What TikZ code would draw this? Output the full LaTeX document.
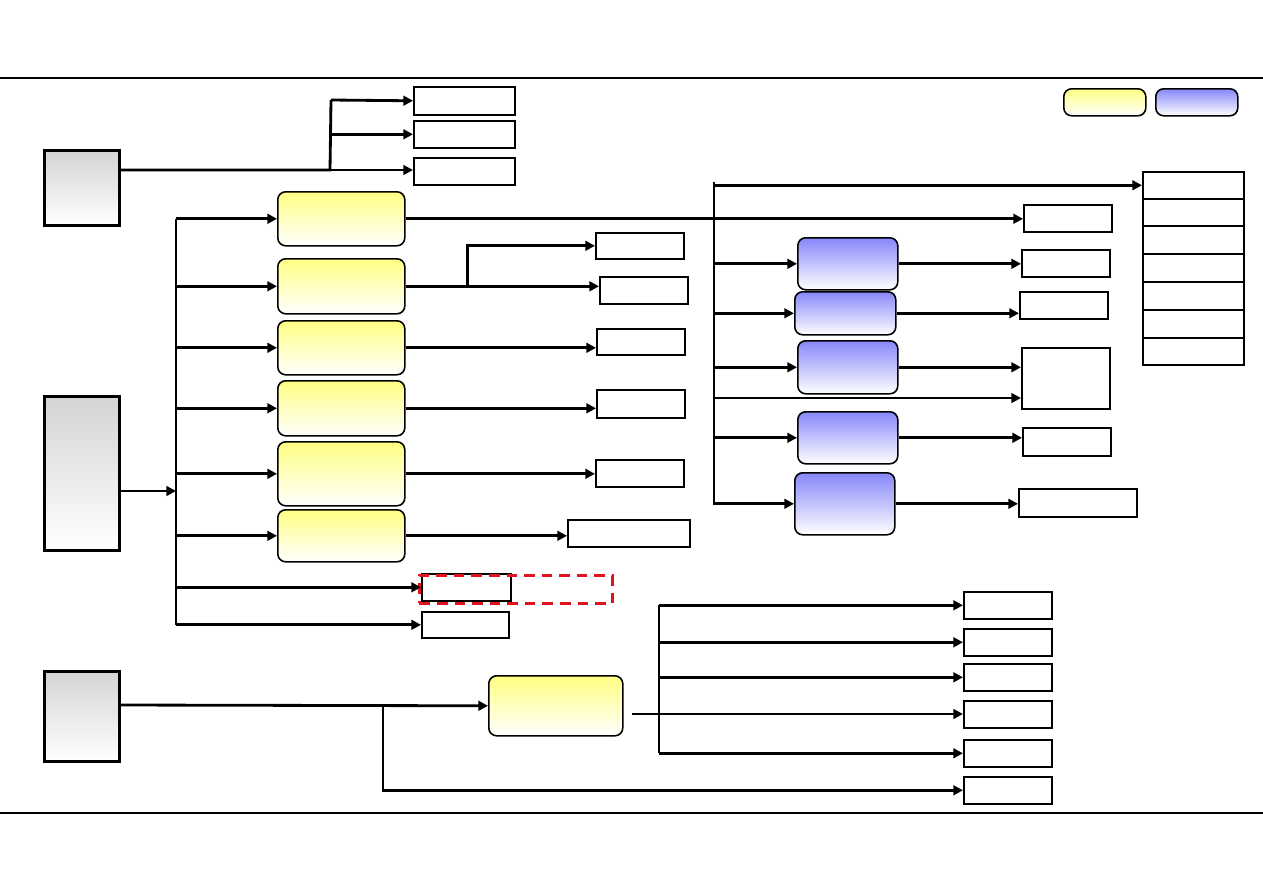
\documentclass[tikz,border=0pt]{standalone}
\usetikzlibrary{arrows.meta}
\definecolor{xYellow}{RGB}{255,255,130}
\definecolor{xBlue}{RGB}{135,135,250}
\definecolor{xGray}{RGB}{212,212,212}
\definecolor{xRed}{RGB}{225,20,30}
\tikzset{
  sz/.style 2 args={minimum width=#1*0.02cm, minimum height=#2*0.02cm},
  blk/.style={draw, anchor=north west, inner sep=0pt, line width=0.9pt},
  grayblk/.style={blk, line width=1.6pt, top color=xGray, bottom color=white},
  yelblk/.style={blk, rounded corners=4.5pt, top color=xYellow, bottom color=white, middle color=xYellow!50},
  blublk/.style={blk, rounded corners=4.5pt, top color=xBlue, bottom color=white, middle color=xBlue!50},
  outblk/.style={blk, fill=white},
  hilite/.style={anchor=north west, inner sep=0pt, draw=xRed, line width=1.6pt, dash pattern=on 6pt off 4pt},
  wire/.style={line width=1.6pt},
  arr/.style={line width=1.6pt, -{Triangle[length=5.5pt, width=5.5pt]}},
}
\begin{document}
\begin{tikzpicture}[x=0.02cm, y=-0.02cm]
  \useasboundingbox (0,0) rectangle (1263,893);
  \draw[line width=1.3pt] (0,78) -- (1263,78);
  \draw[line width=0.7pt] (0,813) -- (1263,813);

  % sources
  \node[grayblk, sz={75}{75}]  (g1) at (43,149) {};
  \node[grayblk, sz={75}{154}] (g2) at (43,395) {};
  \node[grayblk, sz={75}{90}]  (g3) at (43,670) {};

  % legend
  \node[yelblk, sz={82}{27}] (ly) at (1063,88) {};
  \node[blublk, sz={82}{27}] (lb) at (1155,88) {};

  % top group
  \node[outblk, sz={101}{28}] (t1) at (413,86) {};
  \node[outblk, sz={101}{27}] (t2) at (413,120) {};
  \node[outblk, sz={101}{27}] (t3) at (413,157) {};
  \coordinate (j1) at (330,170);
  \coordinate (j1t) at (331,100);
  \draw[wire] (g1.east |- j1) -- (j1) -- (j1t);
  \draw[arr] (j1t) -- (t1.west);
  \draw[arr] (t2.west -| j1) -- (t2.west);
  \draw[arr] (j1) -- (j1 -| t3.west);

  % middle group
  \node[yelblk, sz={127}{54}] (y1) at (277,191) {};
  \node[yelblk, sz={127}{55}] (y2) at (277,258) {};
  \node[yelblk, sz={127}{54}] (y3) at (277,320) {};
  \node[yelblk, sz={127}{55}] (y4) at (277,380) {};
  \node[yelblk, sz={127}{64}] (y5) at (277,441) {};
  \node[yelblk, sz={127}{52}] (y6) at (277,509) {};
  \node[outblk, sz={89}{27}]  (w7) at (421,573) {};
  \node[outblk, sz={87}{26}]  (w8) at (421,611) {};
  \node[hilite, sz={193}{28}] (hl) at (418,574) {};
  \coordinate (k) at (176,491);
  \draw[arr] (g2.east |- k) -- (k);
  \draw[wire] (y1.west -| k) -- (w8.west -| k);
  \foreach \n in {y1,y2,y3,y4,y5,y6,w7,w8}
    \draw[arr] (\n.west -| k) -- (\n.west);

  \node[outblk, sz={88}{27}]  (o1)  at (1023,204) {};
  \node[outblk, sz={88}{26}]  (o2a) at (595,232) {};
  \node[outblk, sz={88}{27}]  (o2b) at (599,276) {};
  \node[outblk, sz={88}{26}]  (o3)  at (596,328) {};
  \node[outblk, sz={88}{28}]  (o4)  at (596,389) {};
  \node[outblk, sz={88}{27}]  (o5)  at (595,459) {};
  \node[outblk, sz={122}{27}] (o6)  at (567,519) {};
  \draw[arr] (y1.east) -- (o1.west |- y1.east);
  \path (y2.east) ++(62,0) coordinate (j2);
  \draw[arr] (y2.east) -- (o2b.west |- y2.east);
  \draw[arr] (j2) |- (o2a.west);
  \draw[arr] (y3.east) -- (o3.west |- y3.east);
  \draw[arr] (y4.east) -- (o4.west |- y4.east);
  \draw[arr] (y5.east) -- (o5.west |- y5.east);
  \draw[arr] (y6.east) -- (o6.west |- y6.east);

  % right group
  \foreach \i/\y/\h in {1/171/27, 2/198/27, 3/225/28, 4/253/28, 5/281/28, 6/309/28, 7/337/27}
    \node[outblk, sz={101}{\h}] (s\i) at (1142,\y) {};
  \node[blublk, sz={100}{52}] (b1) at (797,237) {};
  \node[blublk, sz={101}{43}] (b2) at (794,291) {};
  \node[blublk, sz={100}{53}] (b3) at (797,340) {};
  \node[blublk, sz={100}{52}] (b4) at (797,411) {};
  \node[blublk, sz={100}{62}] (b5) at (794,472) {};
  \node[outblk, sz={88}{27}]  (p1) at (1021,249) {};
  \node[outblk, sz={88}{27}]  (p2) at (1019,291) {};
  \node[outblk, sz={88}{61}]  (p3) at (1021,347) {};
  \node[outblk, sz={88}{28}]  (p4) at (1022,427) {};
  \node[outblk, sz={118}{28}] (p5) at (1018,488) {};
  \coordinate (rtop) at (714,182);
  \coordinate (r4) at (714,398);
  \draw[arr] (rtop) |- (b5.west);
  \draw[arr] (s1.west -| rtop) -- (s1.west);
  \foreach \n in {b1,b2,b3,b4}
    \draw[arr] (\n.west -| rtop) -- (\n.west);
  \draw[arr] (r4) -- (r4 -| p3.west);
  \foreach \a/\b in {b1/p1,b2/p2,b3/p3,b4/p4,b5/p5}
    \draw[arr] (\a.east) -- (\b.west |- \a.east);

  % bottom group
  \node[yelblk, sz={134}{60}] (y7) at (488,675) {};
  \foreach \i/\y in {1/591, 2/628, 3/663, 4/700, 5/739, 6/776}
    \node[outblk, sz={88}{27}] (q\i) at (963,\y) {};
  \coordinate (m) at (383,705);
  \draw[arr] (g3.east |- m) -- (y7.west);
  \draw[arr] (m) |- (q6.west);
  \coordinate (n) at (659,606);
  \coordinate (n4) at (632,714);
  \draw[wire] (q1.west -| n) -- (q5.west -| n);
  \foreach \n in {q1,q2,q3,q5}
    \draw[arr] (\n.west -| n) -- (\n.west);
  \draw[arr] (n4) -- (n4 -| q4.west);
\end{tikzpicture}
\end{document}
